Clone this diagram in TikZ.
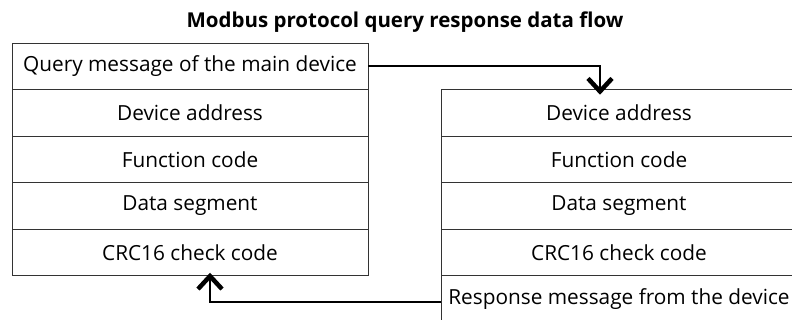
\documentclass[tikz,border=0pt]{standalone}
\usepackage{fontspec}
\setmainfont{Open Sans}
\usetikzlibrary{positioning,arrows.meta}
\tikzset{
  field/.style={draw=black!80, line width=0.9pt, minimum width=356pt, minimum height=46.5pt,
    inner sep=0pt, outer sep=0pt, font=\fontsize{20.8}{24}\selectfont},
  flow/.style={line width=2pt, -{Straight Barb[length=13pt,width=24pt,line width=4.5pt]}}
}
\begin{document}
\begin{tikzpicture}[x=1pt, y=-1pt]
  \useasboundingbox (0,0) rectangle (792,320);
  \clip (0,0) rectangle (792,320);

  % title
  \node[font=\bfseries\fontsize{20.5}{24}\selectfont] (title) at (405,22) {Modbus protocol query response data flow};

  % query from the main device
  \node[field] (q0) at (190,66.5) {Query message of the main device};
  \node[field, below=0pt of q0] (q1) {Device address};
  \node[field, below=0pt of q1] (q2) {Function code};
  \node[field, below=0pt of q2] (q3) {Data segment};
  \node[field, below=0pt of q3] (q4) {CRC16 check code};

  % response of the device
  \node[field] (r1) at (619,113) {Device address};
  \node[field, below=0pt of r1] (r2) {Function code};
  \node[field, below=0pt of r2] (r3) {Data segment};
  \node[field, below=0pt of r3] (r4) {CRC16 check code};
  \node[field, below=0pt of r4] (r5) {Response message from the device};

  % data flow
  \draw[flow] (q0.east) -| ([xshift=-19pt, yshift=-5pt]r1.north);
  \draw[flow] ([yshift=-3pt]r5.west) -| ([xshift=20pt, yshift=3pt]q4.south);
\end{tikzpicture}
\end{document}
